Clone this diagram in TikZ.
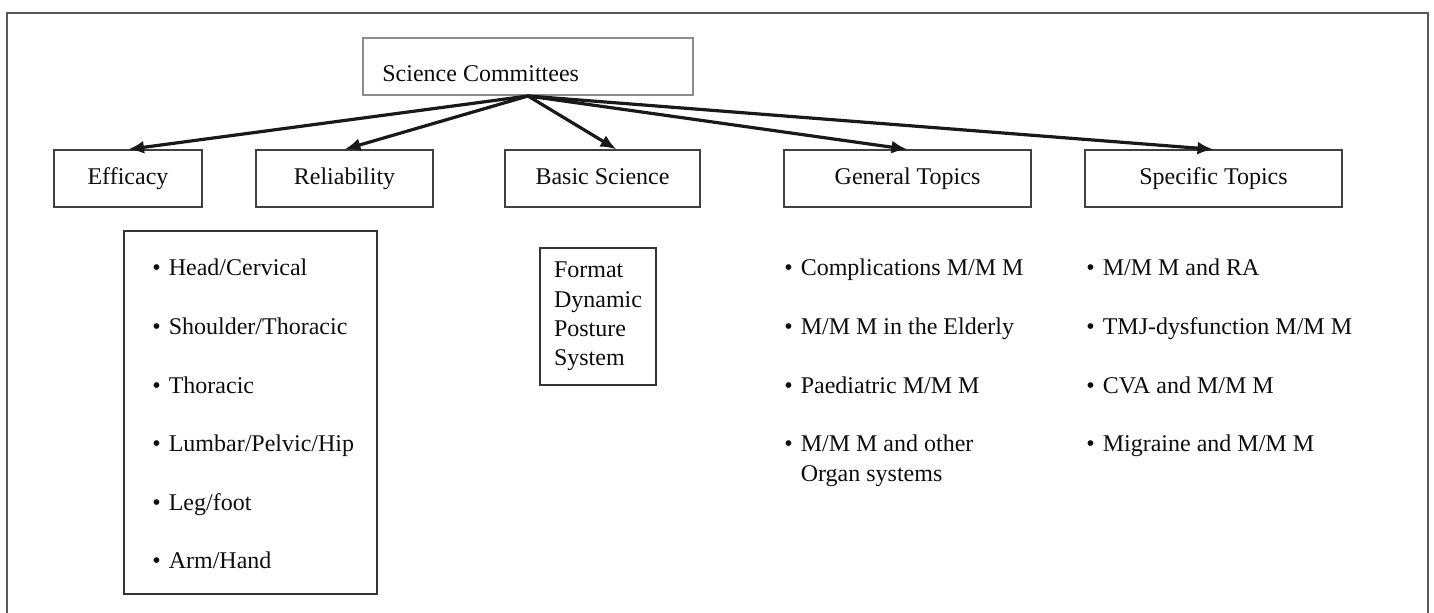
\documentclass[tikz,border=0pt]{standalone}
\usepackage{fontspec}
\setmainfont{Liberation Serif}
\usepackage{tikz}
\usetikzlibrary{arrows.meta}

\tikzset{
  topbox/.style={draw=black!45, line width=1pt, minimum width=165pt, minimum height=28.5pt},
  catbox/.style={draw=black!75, line width=0.6pt, minimum height=28.5pt, text=black!95,
    inner sep=0pt, text height=8.2pt, text depth=2.6pt},
  listbox/.style={draw=black!80, line width=0.6pt, inner sep=0pt, text=black!95},
  entry/.style={anchor=base west, inner sep=0pt, text=black!95},
  link/.style={line width=1.6pt, black!90, -{Latex[length=8pt,width=6.5pt]}},
}
\newcommand{\bul}{{\large\textbullet}\hspace{4pt}}

\begin{document}
\begin{tikzpicture}[x=0.5pt, y=-0.5pt, font=\fontsize{12}{14.65}\selectfont]
    \useasboundingbox (0, 0) rectangle (1434, 613);
    % frame, open at the bottom
    \draw [black!65, line width=0.75pt] (7, 613) -- (7, 13) -- (1428, 13) -- (1428, 613);

    \node[topbox] (sci) at (528, 66.5) {};
    \node[entry] (scilabel) at (382, 82) {Science Committees};

    \node[catbox, minimum width=74pt] (eff) at (128, 178.5) {Efficacy};
    \node[catbox, minimum width=88.5pt] (rel) at (344.5, 178.5) {Reliability};
    \node[catbox, minimum width=97.5pt] (bas) at (602.5, 178.5) {Basic Science};
    \node[catbox, minimum width=123.5pt] (gen) at (907.5, 178.5) {General Topics};
    \node[catbox, minimum width=128.5pt] (spe) at (1213.5, 178.5) {Specific Topics};

    \foreach \to in {eff, rel, gen, spe}
        \draw[link] (sci.south) -- (\to.north);
    \draw[link] (sci.south) -- ([xshift=7pt]bas.north);

    % efficacy regions
    \node[listbox, minimum width=126.5pt, minimum height=181.5pt] (regions) at (250.5, 412.5) {};
    \foreach \part [count=\i from 0] in {Head/Cervical, Shoulder/Thoracic, Thoracic,
            Lumbar/Pelvic/Hip, Leg/foot, Arm/Hand}
        \node[entry] (region\i) at (152, 276 + 58.6*\i) {\bul\part};

    % basic science
    \node[listbox, minimum width=58pt, minimum height=68.5pt, align=left] (fdps) at (598, 316.5)
        {Format\\Dynamic\\Posture\\System};

    % general topics
    \foreach \topic [count=\i from 0] in {Complications M/M M, M/M M in the Elderly,
            Paediatric M/M M}
        \node[entry] (gen\i) at (784, 276 + 58.6*\i) {\bul\topic};
    \node[entry, align=left] (gen3) at (784, 481.1)
        {\bul M/M M and other\\\hphantom{\bul}Organ systems};

    % specific topics
    \foreach \topic [count=\i from 0] in {M/M M and RA, TMJ-dysfunction M/M M,
            CVA and M/M M, Migraine and M/M M}
        \node[entry] (spe\i) at (1086, 276 + 58.6*\i) {\bul\topic};
\end{tikzpicture}
\end{document}
